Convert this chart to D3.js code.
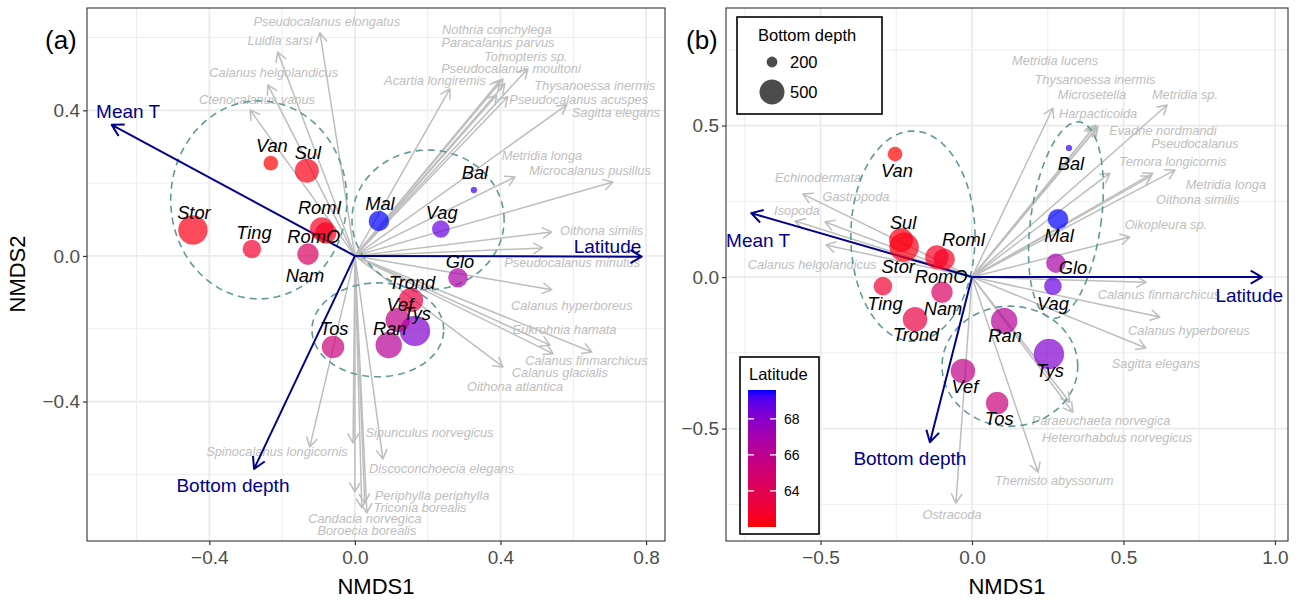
<!DOCTYPE html>
<html>
<head>
<meta charset="utf-8">
<script src="https://cdn.jsdelivr.net/npm/d3@7"></script>
<style>
  body { margin: 0; background: #fff; }
  svg text { font-family: "Liberation Sans", Arial, Helvetica, sans-serif; }
</style>
</head>
<body>
<svg id="fig" width="1303" height="600"></svg>
<script>
// ---------- data ----------
const siteNames   = ["Van","Sul","Stor","RomI","RomO","Ting","Trond","Nam","Tos","Vef","Ran","Glo","Tys","Vag","Bal","Mal"];
const latitude    = [62.0,62.3,62.3,62.6,62.6,62.9,63.5,64.5,65.3,65.9,66.3,66.8,68.1,68.7,69.3,69.6];
const bottomDepth = [240,455,650,440,380,310,470,380,410,470,535,330,690,290,180,355];

// site scores, panel (a) and panel (b)
const siteA1 = [-0.231,-0.132,-0.445,-0.091,-0.080,-0.283,0.154,-0.129,-0.060,0.118,0.093,0.283,0.165,0.236,0.327,0.066];
const siteA2 = [0.255,0.234,0.071,0.074,0.063,0.019,-0.121,0.005,-0.250,-0.176,-0.245,-0.060,-0.206,0.074,0.181,0.096];
const siteB1 = [-0.254,-0.234,-0.224,-0.116,-0.092,-0.294,-0.188,-0.099,0.083,-0.030,0.106,0.277,0.254,0.267,0.320,0.284];
const siteB2 = [0.406,0.122,0.099,0.066,0.059,-0.030,-0.139,-0.050,-0.416,-0.310,-0.145,0.046,-0.254,-0.030,0.426,0.191];

// environmental vectors
const envNames = ["Mean T","Latitude","Bottom depth"];
const envA1 = [-0.668, 0.788, -0.277];
const envA2 = [0.360, -0.002, -0.585];
const envB1 = [-0.729, 0.957, -0.139];
const envB2 = [0.211, 0.000, -0.545];

// species vectors, panel (a)
const speciesA = ["Pseudocalanus elongatus","Luidia sarsi","Calanus helgolandicus","Ctenocalanus vanus",
  "Acartia longiremis","Nothria conchylega","Paracalanus parvus","Tomopteris sp.","Pseudocalanus moultoni",
  "Thysanoessa inermis","Pseudocalanus acuspes","Sagitta elegans","Metridia longa","Microcalanus pusillus",
  "Oithona similis","Pseudocalanus minutus","Calanus hyperboreus","Eukrohnia hamata","Calanus finmarchicus",
  "Calanus glacialis","Oithona atlantica","Spinocalanus longicornis","Sipunculus norvegicus",
  "Discoconchoecia elegans","Periphylla periphylla","Triconia borealis","Candacia norvegica","Boroecia borealis"];
const speciesA1 = [-0.096,-0.212,-0.239,-0.288,0.261,0.407,0.398,0.475,0.412,0.420,0.390,0.582,0.440,0.709,
  0.541,0.516,0.541,0.536,0.651,0.545,0.407,-0.124,-0.005,0.077,0.000,0.027,0.019,0.033];
const speciesA2 = [0.613,0.560,0.470,0.401,0.459,0.486,0.481,0.514,0.473,0.437,0.442,0.415,0.217,0.203,
  0.066,0.022,-0.093,-0.245,-0.264,-0.269,-0.305,-0.525,-0.514,-0.558,-0.648,-0.679,-0.692,-0.706];

// species vectors, panel (b)
const speciesB = ["Metridia lucens","Thysanoessa inermis","Microsetella","Metridia sp.","Harpacticoida",
  "Evadne nordmandi","Pseudocalanus","Temora longicornis","Metridia longa","Oithona similis","Oikopleura sp.",
  "Echinodermata","Gastropoda","Isopoda","Calanus helgolandicus","Calanus finmarchicus","Calanus hyperboreus",
  "Sagitta elegans","Paraeuchaeta norvegica","Heterorhabdus norvegicus","Themisto abyssorum","Ostracoda"];
const speciesB1 = [0.267,0.403,0.409,0.644,0.413,0.416,0.597,0.455,0.670,0.591,0.521,-0.558,-0.485,-0.584,
  -0.482,0.574,0.620,0.574,0.323,0.333,0.218,-0.053];
const speciesB2 = [0.558,0.495,0.502,0.568,0.492,0.498,0.343,0.343,0.353,0.333,0.132,0.274,0.182,0.185,
  0.106,-0.017,-0.132,-0.234,-0.413,-0.446,-0.644,-0.746];

// group ellipses (centre, semi-axes, rotation in degrees)
const ellipseA = [
  { cx: -0.264, cy: 0.154, rx: 0.242, ry: 0.272, rot: 0 },
  { cx: 0.201, cy: 0.099, rx: 0.209, ry: 0.192, rot: 0 },
  { cx: 0.063, cy: -0.203, rx: 0.181, ry: 0.129, rot: 0 }
];
const ellipseB = [
  { cx: -0.195, cy: 0.135, rx: 0.205, ry: 0.347, rot: 0 },
  { cx: 0.310, cy: 0.188, rx: 0.116, ry: 0.327, rot: -8 },
  { cx: 0.125, cy: -0.294, rx: 0.224, ry: 0.198, rot: 0 }
];

// axis ticks
const ticksA_x = [-0.4, 0, 0.4, 0.8], minorA_x = [-0.6, -0.2, 0.2, 0.6];
const ticksA_y = [-0.4, 0, 0.4],      minorA_y = [-0.6, -0.2, 0.2, 0.6];
const ticksB_x = [-0.5, 0, 0.5, 1.0], minorB_x = [-0.75, -0.25, 0.25, 0.75];
const ticksB_y = [-0.5, 0, 0.5],      minorB_y = [-0.75, -0.25, 0.25, 0.75];
const sizeBreaks = [200, 500];
const latBreaks = [64, 66, 68];

// ---------- layout (label placement) ----------
const speciesLabelA = [[-0.077,0.643],[-0.206,0.593],[-0.223,0.503],[-0.269,0.429],[0.220,0.481],[0.390,0.621],
  [0.393,0.585],[0.470,0.549],[0.429,0.516],[0.659,0.467],[0.615,0.429],[0.717,0.393],[0.514,0.277],[0.646,0.234],
  [0.678,0.071],[0.597,-0.019],[0.596,-0.135],[0.576,-0.203],[0.636,-0.286],[0.563,-0.319],[0.440,-0.360],
  [-0.214,-0.538],[0.205,-0.486],[0.238,-0.585],[0.212,-0.657],[0.179,-0.692],[0.027,-0.720],[0.033,-0.753]];
const speciesLabelB = [[0.274,0.716],[0.406,0.653],[0.396,0.604],[0.703,0.601],[0.416,0.541],[0.630,0.485],
  [0.736,0.442],[0.663,0.383],[0.838,0.304],[0.745,0.257],[0.640,0.175],[-0.508,0.330],[-0.383,0.267],
  [-0.578,0.218],[-0.528,0.043],[0.617,-0.059],[0.716,-0.178],[0.607,-0.284],[0.426,-0.472],[0.479,-0.531],
  [0.271,-0.673],[-0.066,-0.782]];
const envLabelA = [[-0.623,0.397],[0.694,0.025],[-0.335,-0.629]];
const envLabelB = [[-0.706,0.122],[0.915,-0.059],[-0.205,-0.597]];
const siteNudgeA = [[1,-17],[1,-18],[1,-17],[-2,-21],[-12,4],[2,-16],[1,-17],[-3,21],[1,-18],[2,-15],[1,-17],
  [2,-16],[2,-17],[1,-16],[1,-17],[1,-17]];
const siteNudgeB = [[2,17],[2,-18],[-6,20],[27,-17],[-3,17],[2,17],[1,15],[1,16],[2,15],[2,16],[1,15],[17,4],
  [1,17],[0,17],[2,16],[1,16]];

// ---------- shared scales ----------
const latColor = d3.scaleLinear().domain(d3.extent(latitude)).range(["#FF0000", "#0000FF"])
  .interpolate(d3.interpolateLab);
const depthUnit = d3.scaleLinear().domain(d3.extent(bottomDepth)).range([0, 1]);
const radiusScale = d3.scaleLinear().domain([0, 1]).range([3, 15]);
const radius = d => radiusScale(Math.sqrt(Math.max(0, depthUnit(d))));

const GREY = "#BEBEBE", ENV = "#00008B", ELL = "#5F9A9A";
const svg = d3.select("#fig");

function arrowPath(x0, y0, x1, y1, len) {
  const a = Math.atan2(y1 - y0, x1 - x0), s = Math.PI / 6;
  const p1 = [x1 - len * Math.cos(a - s), y1 - len * Math.sin(a - s)];
  const p2 = [x1 - len * Math.cos(a + s), y1 - len * Math.sin(a + s)];
  return `M${x0},${y0}L${x1},${y1}M${p1[0]},${p1[1]}L${x1},${y1}L${p2[0]},${p2[1]}`;
}

function drawPanel(p) {
  const x = d3.scaleLinear().domain(p.xDom).range([p.left, p.right]);
  const y = d3.scaleLinear().domain(p.yDom).range([p.bottom, p.top]);
  const g = svg.append("g");
  const clipId = "clip-" + p.id;
  svg.append("clipPath").attr("id", clipId).append("rect")
    .attr("x", p.left).attr("y", p.top).attr("width", p.right - p.left).attr("height", p.bottom - p.top);

  // background grid
  const grid = g.append("g");
  grid.selectAll(".mx").data(p.minorX).join("line")
    .attr("x1", d => x(d)).attr("x2", d => x(d)).attr("y1", p.top).attr("y2", p.bottom)
    .attr("stroke", "#EBEBEB").attr("stroke-width", 0.9);
  grid.selectAll(".my").data(p.minorY).join("line")
    .attr("y1", d => y(d)).attr("y2", d => y(d)).attr("x1", p.left).attr("x2", p.right)
    .attr("stroke", "#EBEBEB").attr("stroke-width", 0.9);
  grid.selectAll(".Mx").data(p.ticksX).join("line")
    .attr("x1", d => x(d)).attr("x2", d => x(d)).attr("y1", p.top).attr("y2", p.bottom)
    .attr("stroke", "#EBEBEB").attr("stroke-width", 1.8);
  grid.selectAll(".My").data(p.ticksY).join("line")
    .attr("y1", d => y(d)).attr("y2", d => y(d)).attr("x1", p.left).attr("x2", p.right)
    .attr("stroke", "#EBEBEB").attr("stroke-width", 1.8);

  const inner = g.append("g").attr("clip-path", `url(#${clipId})`);

  // species arrows and names
  inner.append("g").selectAll("path").data(p.species).join("path")
    .attr("d", (d, i) => arrowPath(x(0), y(0), x(p.sp1[i]), y(p.sp2[i]), 11))
    .attr("fill", "none").attr("stroke", GREY).attr("stroke-width", 1.5)
    .attr("stroke-linejoin", "round");
  inner.append("g").selectAll("text").data(p.species).join("text")
    .attr("x", (d, i) => x(p.spLab[i][0])).attr("y", (d, i) => y(p.spLab[i][1]))
    .attr("dy", "0.35em").attr("text-anchor", "middle")
    .attr("font-size", 12.8).attr("font-style", "italic").attr("fill", GREY)
    .text(d => d);

  // group ellipses
  const ellLine = d3.line().x(d => x(d[0])).y(d => y(d[1]));
  inner.append("g").selectAll("path").data(p.ellipses).join("path")
    .attr("d", e => {
      const r = e.rot * Math.PI / 180, pts = [];
      for (let k = 0; k <= 120; k++) {
        const t = 2 * Math.PI * k / 120;
        const ex = e.rx * Math.cos(t), ey = e.ry * Math.sin(t);
        pts.push([e.cx + ex * Math.cos(r) - ey * Math.sin(r), e.cy + ex * Math.sin(r) + ey * Math.cos(r)]);
      }
      return ellLine(pts);
    })
    .attr("fill", "none").attr("stroke", ELL).attr("stroke-width", 1.6)
    .attr("stroke-dasharray", "7,5");

  // environmental vectors
  inner.append("g").selectAll("path").data(envNames).join("path")
    .attr("d", (d, i) => arrowPath(x(0), y(0), x(p.env1[i]), y(p.env2[i]), 13))
    .attr("fill", "none").attr("stroke", ENV).attr("stroke-width", 2)
    .attr("stroke-linejoin", "round");
  inner.append("g").selectAll("text").data(envNames).join("text")
    .attr("x", (d, i) => x(p.envLab[i][0])).attr("y", (d, i) => y(p.envLab[i][1]))
    .attr("dy", "0.35em").attr("text-anchor", "middle")
    .attr("font-size", 19).attr("fill", ENV).text(d => d);

  // sites
  const order = d3.range(siteNames.length).sort((a, b) => bottomDepth[b] - bottomDepth[a]);
  inner.append("g").selectAll("circle").data(order).join("circle")
    .attr("cx", i => x(p.s1[i])).attr("cy", i => y(p.s2[i]))
    .attr("r", i => radius(bottomDepth[i]))
    .attr("fill", i => latColor(latitude[i])).attr("fill-opacity", 0.7)
    .attr("stroke", i => latColor(latitude[i])).attr("stroke-opacity", 0.25).attr("stroke-width", 1);
  inner.append("g").selectAll("text").data(siteNames).join("text")
    .attr("x", (d, i) => x(p.s1[i]) + p.nudge[i][0])
    .attr("y", (d, i) => y(p.s2[i]) + p.nudge[i][1])
    .attr("dy", "0.35em").attr("text-anchor", "middle")
    .attr("font-size", 18.3).attr("font-style", "italic").attr("fill", "#000")
    .text(d => d);

  // axes
  const fmt = d3.format(".1f");
  const ax = g.append("g").attr("transform", `translate(0,${p.bottom})`)
    .call(d3.axisBottom(x).tickValues(p.ticksX).tickFormat(fmt).tickSize(4).tickPadding(6).tickSizeOuter(0));
  const ay = g.append("g").attr("transform", `translate(${p.left},0)`)
    .call(d3.axisLeft(y).tickValues(p.ticksY).tickFormat(fmt).tickSize(4).tickPadding(3).tickSizeOuter(0));
  [ax, ay].forEach(a => {
    a.select(".domain").remove();
    a.selectAll(".tick line").attr("stroke", "#333333").attr("stroke-width", 1.2);
    a.selectAll(".tick text").attr("fill", "#4D4D4D").attr("font-size", 19)
      .attr("font-family", "'Liberation Sans', Arial, sans-serif");
  });

  // frame
  g.append("rect").attr("x", p.left).attr("y", p.top)
    .attr("width", p.right - p.left).attr("height", p.bottom - p.top)
    .attr("fill", "none").attr("stroke", "#333333").attr("stroke-width", 1.1);

  // titles
  g.append("text").attr("x", (p.left + p.right) / 2).attr("y", 586).attr("dy", "0.35em")
    .attr("text-anchor", "middle").attr("font-size", 22).text("NMDS1");
  g.append("text").attr("x", p.tagX).attr("y", 40).attr("dy", "0.35em")
    .attr("font-size", 26).text(p.tag);
  return { x, y, g };
}

const panelA = drawPanel({
  id: "a", left: 87, right: 665, top: 8, bottom: 541,
  xDom: [-0.736, 0.852], yDom: [-0.783, 0.681],
  ticksX: ticksA_x, minorX: minorA_x, ticksY: ticksA_y, minorY: minorA_y,
  species: speciesA, sp1: speciesA1, sp2: speciesA2, spLab: speciesLabelA,
  env1: envA1, env2: envA2, envLab: envLabelA,
  s1: siteA1, s2: siteA2, nudge: siteNudgeA, ellipses: ellipseA,
  tag: "(a)", tagX: 45
});
const panelB = drawPanel({
  id: "b", left: 726, right: 1288, top: 8, bottom: 541,
  xDom: [-0.812, 1.043], yDom: [-0.871, 0.888],
  ticksX: ticksB_x, minorX: minorB_x, ticksY: ticksB_y, minorY: minorB_y,
  species: speciesB, sp1: speciesB1, sp2: speciesB2, spLab: speciesLabelB,
  env1: envB1, env2: envB2, envLab: envLabelB,
  s1: siteB1, s2: siteB2, nudge: siteNudgeB, ellipses: ellipseB,
  tag: "(b)", tagX: 686
});

// y-axis title of the left panel
svg.append("text").attr("transform", "translate(17,274) rotate(-90)").attr("dy", "0.35em")
  .attr("text-anchor", "middle").attr("font-size", 22).text("NMDS2");

// ---------- legends inside panel (b) ----------
const leg = svg.append("g");
// size legend
const sizeBox = leg.append("g").attr("transform", "translate(737,17)");
sizeBox.append("rect").attr("width", 145).attr("height", 97).attr("fill", "#fff")
  .attr("stroke", "#000").attr("stroke-width", 1.6);
sizeBox.append("text").attr("x", 21).attr("y", 18).attr("dy", "0.35em").attr("font-size", 16.5)
  .text("Bottom depth");
const sizeKeyY = d3.scalePoint().domain(sizeBreaks).range([45, 75]);
sizeBox.selectAll("circle").data(sizeBreaks).join("circle")
  .attr("cx", 35).attr("cy", d => sizeKeyY(d)).attr("r", d => radius(d))
  .attr("fill", "#000").attr("fill-opacity", 0.7);
sizeBox.selectAll("text.lab").data(sizeBreaks).join("text").attr("class", "lab")
  .attr("x", 53).attr("y", d => sizeKeyY(d)).attr("dy", "0.35em").attr("font-size", 16.5)
  .text(d => d);

// colour bar legend
const barBox = leg.append("g").attr("transform", "translate(740,357)");
barBox.append("rect").attr("width", 79).attr("height", 177).attr("fill", "#fff")
  .attr("stroke", "#000").attr("stroke-width", 1.6);
barBox.append("text").attr("x", 9).attr("y", 17).attr("dy", "0.35em").attr("font-size", 16.5)
  .text("Latitude");
const latDom = d3.extent(latitude);
const barY = d3.scaleLinear().domain(latDom).range([170, 33]);
const grad = svg.append("defs").append("linearGradient").attr("id", "latGrad")
  .attr("x1", 0).attr("y1", 1).attr("x2", 0).attr("y2", 0);
d3.range(0, 1.0001, 0.05).forEach(t => {
  grad.append("stop").attr("offset", t)
    .attr("stop-color", latColor(latDom[0] + t * (latDom[1] - latDom[0])));
});
barBox.append("rect").attr("x", 8).attr("y", barY(latDom[1])).attr("width", 28)
  .attr("height", barY(latDom[0]) - barY(latDom[1])).attr("fill", "url(#latGrad)");
barBox.selectAll("path.tk").data(latBreaks).join("path").attr("class", "tk")
  .attr("d", d => `M8,${barY(d)}h6M30,${barY(d)}h6`)
  .attr("stroke", "#fff").attr("stroke-width", 1.2);
barBox.selectAll("text.lab").data(latBreaks).join("text").attr("class", "lab")
  .attr("x", 44).attr("y", d => barY(d)).attr("dy", "0.35em").attr("font-size", 14)
  .text(d => d);
</script>
</body>
</html>
